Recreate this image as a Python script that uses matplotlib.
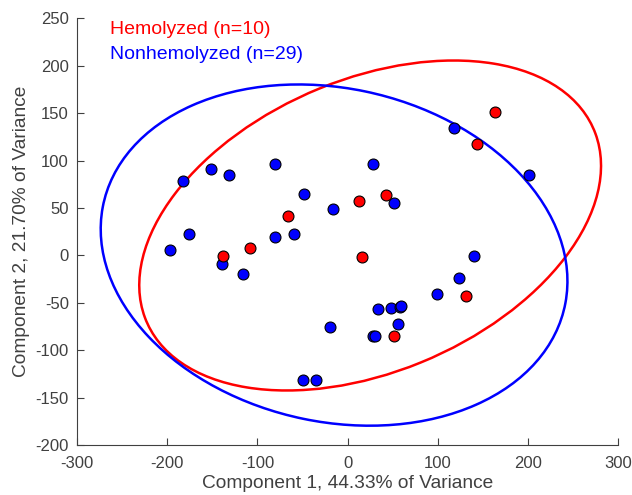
import matplotlib
matplotlib.use("Agg")
import matplotlib.pyplot as plt
from matplotlib.patches import Ellipse

plt.rcParams["font.family"] = ["Liberation Sans", "DejaVu Sans"]
plt.rcParams["axes.unicode_minus"] = False

# ---------- data ----------
hemo_x = [163, 144, 131.5, 51, 16.3, 43, 13, -66, -108, -138]
hemo_y = [151, 117, -43, -85, -1.5, 63.5, 57, 41, 7.7, -1]

nonhemo_x = [-183, -152, -132, -80, -48, -16, -175.5, -80, -60, -197,
             -139, -116, -19, -49.6, -34.8,
             118, 201, 28, 52,
             140.4, 123.4, 98.6, 33.7, 48.6, 58.2, 59.7, 55.6, 28.2, 30.8]
nonhemo_y = [78.6, 91, 85, 96, 65, 48.5, 23, 19, 22.5, 5.6,
             -9.5, -19.4, -75.6, -131.4, -131.4,
             134, 85, 96.5, 55.5,
             -0.7, -23.6, -40.4, -56.6, -55.2, -54.5, -53.1, -72.4, -84.7, -84.7]

# confidence ellipses: centre, full width, full height, angle (deg)
hemo_ell = dict(xy=(25, 31.5), width=536, height=310, angle=21.2)
nonhemo_ell = dict(xy=(-15, 0.3), width=523, height=352, angle=-11.15)

xticks = [-300, -200, -100, 0, 100, 200, 300]
yticks = [-200, -150, -100, -50, 0, 50, 100, 150, 200, 250]

RED = "#FF0000"
BLUE = "#0000FF"
AXC = "#404040"

# ---------- figure ----------
fig = plt.figure(figsize=(6.32, 4.95), dpi=100)
ax = fig.add_axes([0.122, 0.101, 0.856, 0.862])

ax.add_patch(Ellipse(**hemo_ell, fill=False, edgecolor=RED, linewidth=1.8, zorder=2))
ax.add_patch(Ellipse(**nonhemo_ell, fill=False, edgecolor=BLUE, linewidth=1.8, zorder=2))

ax.scatter(nonhemo_x, nonhemo_y, s=62, c=BLUE, edgecolors="black",
           linewidths=0.8, zorder=3)
ax.scatter(hemo_x, hemo_y, s=62, c=RED, edgecolors="black",
           linewidths=0.8, zorder=4)

ax.set_xlim(-300, 300)
ax.set_ylim(-200, 250)
ax.set_xticks(xticks)
ax.set_yticks(yticks)

for s in ("top", "right"):
    ax.spines[s].set_visible(False)
for s in ("left", "bottom"):
    ax.spines[s].set_color(AXC)
    ax.spines[s].set_linewidth(0.8)
ax.tick_params(direction="in", length=5, width=0.8, colors=AXC,
               labelsize=12)
ax.tick_params(axis="x", pad=8)
ax.tick_params(axis="y", pad=6)

ax.set_xlabel("Component 1, 44.33% of Variance", fontsize=13.8, color=AXC, labelpad=3)
ax.set_ylabel("Component 2, 21.70% of Variance", fontsize=13.8, color=AXC, labelpad=4)

ax.text(0.0604, 0.9625, "Hemolyzed (n=10)", transform=ax.transAxes,
        color=RED, fontsize=14, va="baseline", ha="left")
ax.text(0.0604, 0.904, "Nonhemolyzed (n=29)", transform=ax.transAxes,
        color=BLUE, fontsize=14, va="baseline", ha="left")

fig.savefig("out.png", dpi=100)
